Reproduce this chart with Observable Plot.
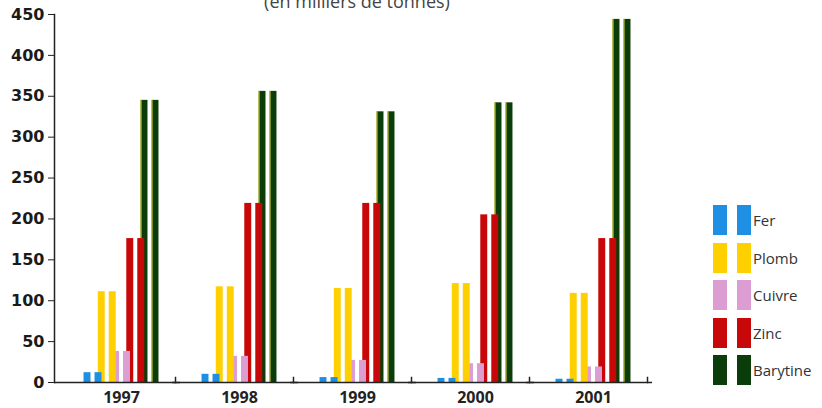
<!DOCTYPE html>
<html><head><meta charset="utf-8">
<script src="https://cdn.jsdelivr.net/npm/d3@7"></script>
<script src="https://cdn.jsdelivr.net/npm/@observablehq/plot@0.6"></script>
<style>
body{margin:0;background:#fff;}
#wrap{position:relative;width:822px;height:408px;overflow:hidden;}
#title{position:absolute;left:0;width:714px;top:-11px;line-height:24px;text-align:center;font:18px "Open Sans";color:#444;}
#legend{position:absolute;left:713px;top:205px;font:15px "Open Sans";color:#333;}
.row{position:absolute;left:0;height:30px;width:110px;}
.sw{position:absolute;top:0;width:14px;height:30px;}
.lab{position:absolute;left:40px;top:0;line-height:30px;white-space:nowrap;}
</style></head>
<body><div id="wrap"><div id="title">(en milliers de tonnes)</div><div id="chart"></div><div id="legend"></div></div>
<script>
const years = ["1997","1998","1999","2000","2001"];
const series = ["Fer","Plomb","Cuivre","Zinc","Barytine"];
const colors = ["#1f8fe3","#ffd000","#dc9ed2","#c80808","#0b3d0b"];
const fer = [12,10,6,5,4];
const plomb = [111,117,115,121,109];
const cuivre = [38,32,27,23,19];
const zinc = [176,219,219,205,176];
const barytine = [345,356,331,342,444];
const yTicks = [0,50,100,150,200,250,300,350,400,450];

const values = [fer, plomb, cuivre, zinc, barytine];
const data = [];
years.forEach((y, i) => series.forEach((s, j) => data.push({year: y, series: s, value: values[j][i]})));

const barMarks = [];
[...series].reverse().forEach(s => {
  const sub = data.filter(d => d.series === s);
  const c = colors[series.indexOf(s)];
  barMarks.push(Plot.barY(sub, {fx: "year", x: "series", y: "value", fill: c, insetLeft: 3.65, insetRight: 3.65, dx: -5.5}));
  barMarks.push(Plot.barY(sub, {fx: "year", x: "series", y: "value", fill: c, insetLeft: 3.65, insetRight: 3.65, dx: 5.5}));
  if (s === "Barytine") {
    barMarks.push(Plot.ruleX(sub, {fx: "year", x: "series", y1: 0, y2: "value", stroke: "#e4dc30", strokeWidth: 1, dx: -9}));
    barMarks.push(Plot.ruleX(sub, {fx: "year", x: "series", y1: 0, y2: "value", stroke: "#e4dc30", strokeWidth: 1, dx: 2}));
  }
});

const chart = Plot.plot({
  width: 822, height: 408,
  marginLeft: 61, marginRight: 169, marginTop: 14, marginBottom: 26,
  style: {background: "transparent"},
  fx: {domain: years, padding: 0, label: null, axis: null},
  x: {domain: series, paddingInner: 0, paddingOuter: 1.64, round: false, axis: null},
  y: {domain: [0, 450], label: null},
  marks: [
    ...barMarks,
    Plot.ruleY([0], {stroke: "#222", strokeWidth: 1.5, insetLeft: -8}),
    Plot.frame({anchor: "right", insetTop: 363, stroke: "#222", strokeWidth: 1.5, dx: -5}),
    Plot.frame({anchor: "left", facetAnchor: "left", stroke: "#222", strokeWidth: 1.5, dx: -8}),
    Plot.axisY(yTicks, {anchor: "left", facetAnchor: "left", tickSize: 6, tickPadding: 4, dx: -8, fontSize: 16, fontWeight: "bold", fontFamily: "DejaVu Sans", fill: "#1a1a1a", stroke: "#222", label: null}),
    Plot.axisFx({anchor: "bottom", tickSize: 0, tickPadding: 9, fontSize: 16, fontWeight: "bold", fontFamily: "Open Sans", fill: "#222", label: null})
  ]
});
document.getElementById("chart").appendChild(chart);

const legend = document.getElementById("legend");
series.forEach((s, i) => {
  const row = document.createElement("div");
  row.className = "row";
  row.style.top = (i * 37.5) + "px";
  const a = document.createElement("div"); a.className = "sw"; a.style.left = "0px"; a.style.background = colors[i];
  const b = document.createElement("div"); b.className = "sw"; b.style.left = "24px"; b.style.background = colors[i];
  const t = document.createElement("div"); t.className = "lab"; t.textContent = s;
  row.append(a, b, t);
  legend.appendChild(row);
});
</script></body></html>
